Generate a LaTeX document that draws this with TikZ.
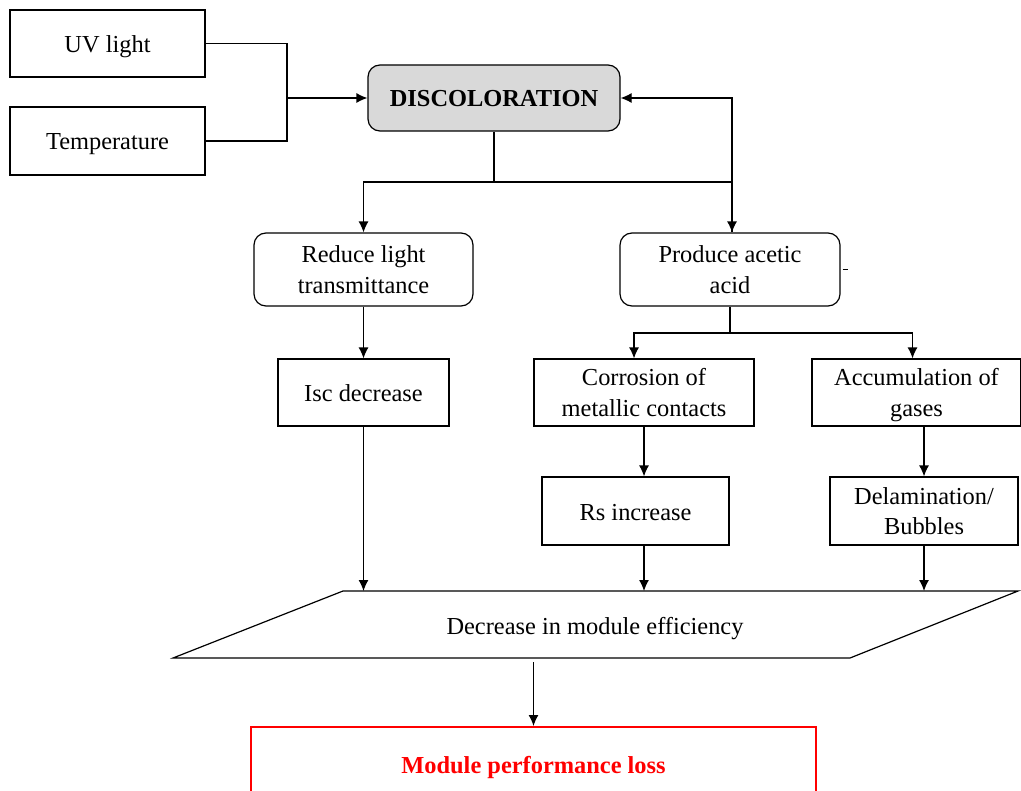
\documentclass[tikz,border=0pt]{standalone}
\usepackage{fontspec}
\setmainfont{Liberation Serif}
\usepackage{tikz}
\usetikzlibrary{arrows.meta}
\usetikzlibrary{positioning}

\definecolor{discgray}{HTML}{D9D9D9}
\newcommand\topstrut{\rule{0pt}{12pt}}
\newcommand\botstrut{\rule[-3pt]{0pt}{3pt}}
\tikzset{
  txt/.style={inner sep=0pt, align=center,
              font=\fontsize{12.2}{15.3}\selectfont,
              execute at begin node=\topstrut,
              execute at end node=\botstrut},
  box/.style={txt, draw, line width=0.6pt},
  rbox/.style={box, rounded corners=6pt},
  twoline/.style={text depth=0pt},
  link/.style={line width=0.6pt},
  arr/.style={link, -{Latex[length=5.5pt,width=5pt]}}
}

\begin{document}
\begin{tikzpicture}[x=0.5pt, y=-0.5pt]
 \useasboundingbox (0,0) rectangle (1021,791);

 \node[box, minimum width=97.5pt, minimum height=33.5pt] (uv) at (107.5,43.5) {UV light};
 \node[box, minimum width=97.5pt, minimum height=34pt] (temp) at (107.5,141) {Temperature};
 \node[rbox, fill=discgray, minimum width=126pt, minimum height=33pt,
       font=\fontsize{12.2}{15.3}\selectfont\bfseries] (disc) at (494,98) {DISCOLORATION};

 \node[rbox, twoline, minimum width=109.5pt, minimum height=36.5pt] (reduce) at (363.5,269.5)
      {Reduce light\\transmittance};
 \node[rbox, twoline, minimum width=110pt, minimum height=36.5pt] (produce) at (730,269.5)
      {Produce acetic\\acid};

 \node[box, minimum width=85.5pt, minimum height=33.5pt] (isc) at (363.5,392.5) {Isc decrease};
 \node[box, twoline, minimum width=110pt, minimum height=33.5pt] (corr) at (644,392.5)
      {Corrosion of\\metallic contacts};
 \node[box, twoline, minimum width=104.5pt, minimum height=33.5pt] (accum) at (916.5,392.5)
      {Accumulation of\\gases};

 \node[box, minimum width=93.5pt, minimum height=34pt] (rs) at (635.5,511) {Rs increase};
 \node[box, twoline, minimum width=94pt, minimum height=34pt] (delam) at (924,511)
      {Delamination/\\Bubbles};

 \coordinate (effTL) at (343,591);
 \coordinate (effTR) at (1018,591);
 \coordinate (effBR) at (850,658);
 \coordinate (effBL) at (173,658);
 \draw[link] (effBL) -- (effTL) -- (effTR) -- (effBR) -- cycle;
 \node[txt] (eff) at (595,625) {Decrease in module efficiency};

 \node[txt, draw=red, line width=1pt, minimum width=282.5pt, minimum height=37pt,
       text=red, font=\fontsize{12.2}{15.3}\selectfont\bfseries] (loss) at (533.5,764)
      {Module performance loss};

 \coordinate (join) at (287,98);
 \draw[link] (uv.east) -| (join);
 \draw[link] (temp.east) -| (join);
 \draw[arr] (join) -- (disc.west);

 \coordinate (split) at (494,182);
 \draw[link] (disc.south) -- (split);
 \draw[arr] (split) -| (reduce.north);
 \draw[arr] (split) -| ([xshift=1pt]produce.north);
 \draw[arr] ([xshift=1pt]produce.north) |- (disc.east);
 \draw[link] ([xshift=1pt]produce.east) -- ++(5,0);

 \draw[arr] (reduce) -- (isc);
 \coordinate (split2) at (730,333);
 \draw[link] (produce.south) -- (split2);
 \draw[arr] (split2) -| ([xshift=-5pt]corr.north);
 \draw[arr] (split2) -| ([xshift=-2pt]accum.north);

 \draw[arr] (corr.south) -- (corr.south |- rs.north);
 \draw[arr] (accum.south -| delam.north) -- (delam.north);

 \draw[arr] (isc.south) -- (isc.south |- effTL);
 \draw[arr] (corr.south |- rs.south) -- (corr.south |- effTL);
 \draw[arr] (delam.south) -- (delam.south |- effTL);

 \coordinate (effout) at (533.5,662);
 \draw[arr] (effout) -- (loss.north);
\end{tikzpicture}
\end{document}
